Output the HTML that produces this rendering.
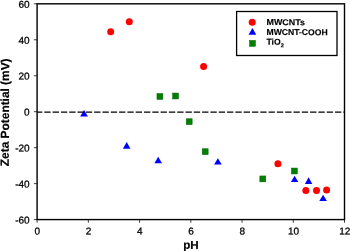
<!DOCTYPE html>
<html><head><meta charset="utf-8"><style>
html,body{margin:0;padding:0;background:#fff;width:350px;height:251px;overflow:hidden}
svg{display:block}
text{font-family:"Liberation Sans",Arial,sans-serif;fill:#000}
.tk{font-size:10px;stroke:#000;stroke-width:0.28px}
.lg{font-size:8.6px;font-weight:bold;stroke:#000;stroke-width:0.15px}
.al{font-size:12px;font-weight:bold;stroke:#000;stroke-width:0.18px}
</style></head><body>
<svg width="350" height="251" viewBox="0 0 350 251">
<rect x="37.10" y="3.82" width="307.40" height="215.76" fill="none" stroke="#000" stroke-width="1.4"/>
<line x1="33.90" y1="219.58" x2="37.10" y2="219.58" stroke="#000" stroke-width="0.75"/>
<text x="29.60" y="223.48" class="tk" text-anchor="end" transform="rotate(0.2 29.60 223.48)">-60</text>
<line x1="33.90" y1="183.62" x2="37.10" y2="183.62" stroke="#000" stroke-width="0.75"/>
<text x="29.60" y="187.52" class="tk" text-anchor="end" transform="rotate(0.2 29.60 187.52)">-40</text>
<line x1="33.90" y1="147.66" x2="37.10" y2="147.66" stroke="#000" stroke-width="0.75"/>
<text x="29.60" y="151.56" class="tk" text-anchor="end" transform="rotate(0.2 29.60 151.56)">-20</text>
<line x1="33.90" y1="111.70" x2="37.10" y2="111.70" stroke="#000" stroke-width="0.75"/>
<text x="29.60" y="115.60" class="tk" text-anchor="end" transform="rotate(0.2 29.60 115.60)">0</text>
<line x1="33.90" y1="75.74" x2="37.10" y2="75.74" stroke="#000" stroke-width="0.75"/>
<text x="29.60" y="79.64" class="tk" text-anchor="end" transform="rotate(0.2 29.60 79.64)">20</text>
<line x1="33.90" y1="39.78" x2="37.10" y2="39.78" stroke="#000" stroke-width="0.75"/>
<text x="29.60" y="43.68" class="tk" text-anchor="end" transform="rotate(0.2 29.60 43.68)">40</text>
<line x1="33.90" y1="3.82" x2="37.10" y2="3.82" stroke="#000" stroke-width="0.75"/>
<text x="29.60" y="7.72" class="tk" text-anchor="end" transform="rotate(0.2 29.60 7.72)">60</text>
<line x1="37.10" y1="219.58" x2="37.10" y2="222.78" stroke="#000" stroke-width="0.75"/>
<text x="37.40" y="234.50" class="tk" text-anchor="middle" transform="rotate(0.2 37.40 234.50)">0</text>
<line x1="88.33" y1="219.58" x2="88.33" y2="222.78" stroke="#000" stroke-width="0.75"/>
<text x="88.63" y="234.50" class="tk" text-anchor="middle" transform="rotate(0.2 88.63 234.50)">2</text>
<line x1="139.57" y1="219.58" x2="139.57" y2="222.78" stroke="#000" stroke-width="0.75"/>
<text x="139.87" y="234.50" class="tk" text-anchor="middle" transform="rotate(0.2 139.87 234.50)">4</text>
<line x1="190.80" y1="219.58" x2="190.80" y2="222.78" stroke="#000" stroke-width="0.75"/>
<text x="191.10" y="234.50" class="tk" text-anchor="middle" transform="rotate(0.2 191.10 234.50)">6</text>
<line x1="242.04" y1="219.58" x2="242.04" y2="222.78" stroke="#000" stroke-width="0.75"/>
<text x="242.34" y="234.50" class="tk" text-anchor="middle" transform="rotate(0.2 242.34 234.50)">8</text>
<line x1="293.27" y1="219.58" x2="293.27" y2="222.78" stroke="#000" stroke-width="0.75"/>
<text x="293.57" y="234.50" class="tk" text-anchor="middle" transform="rotate(0.2 293.57 234.50)">10</text>
<line x1="344.50" y1="219.58" x2="344.50" y2="222.78" stroke="#000" stroke-width="0.75"/>
<text x="344.80" y="234.50" class="tk" text-anchor="middle" transform="rotate(0.2 344.80 234.50)">12</text>
<rect x="156.95" y="93.55" width="5.90" height="5.90" fill="#008000" stroke="#006000" stroke-width="0.5"/>
<rect x="172.65" y="93.05" width="5.90" height="5.90" fill="#008000" stroke="#006000" stroke-width="0.5"/>
<rect x="186.25" y="118.75" width="5.90" height="5.90" fill="#008000" stroke="#006000" stroke-width="0.5"/>
<rect x="202.25" y="148.75" width="5.90" height="5.90" fill="#008000" stroke="#006000" stroke-width="0.5"/>
<rect x="259.85" y="175.95" width="5.90" height="5.90" fill="#008000" stroke="#006000" stroke-width="0.5"/>
<rect x="291.45" y="168.05" width="5.90" height="5.90" fill="#008000" stroke="#006000" stroke-width="0.5"/>
<polygon points="84.05,110.00 80.15,116.60 87.95,116.60" fill="#0000ff"/>
<polygon points="126.70,142.10 122.90,148.80 130.50,148.80" fill="#0000ff"/>
<polygon points="158.20,156.80 154.40,163.30 162.00,163.30" fill="#0000ff"/>
<polygon points="217.90,158.20 214.10,164.60 221.70,164.60" fill="#0000ff"/>
<polygon points="294.60,175.80 290.90,182.10 298.30,182.10" fill="#0000ff"/>
<polygon points="308.60,177.20 304.90,183.90 312.30,183.90" fill="#0000ff"/>
<polygon points="323.10,194.75 319.30,200.90 326.90,200.90" fill="#0000ff"/>
<circle cx="110.70" cy="31.70" r="3.5" fill="#ff0000"/>
<circle cx="129.30" cy="21.85" r="3.5" fill="#ff0000"/>
<circle cx="203.60" cy="66.50" r="3.5" fill="#ff0000"/>
<circle cx="277.90" cy="163.85" r="3.5" fill="#ff0000"/>
<circle cx="305.85" cy="190.50" r="3.5" fill="#ff0000"/>
<circle cx="316.50" cy="190.50" r="3.5" fill="#ff0000"/>
<circle cx="326.60" cy="190.00" r="3.5" fill="#ff0000"/>
<line x1="37.10" y1="112.1" x2="344.50" y2="112.1" stroke="#000" stroke-width="1.4" stroke-dasharray="6.35 1.956" stroke-dashoffset="1.1"/>
<rect x="236.6" y="11.5" width="100.4" height="44" fill="#fff" stroke="#000" stroke-width="1.3"/>
<circle cx="252.2" cy="22.2" r="3.5" fill="#ff0000"/>
<polygon points="252.4,28.0 248.55,34.7 256.25,34.7" fill="#0000ff"/>
<rect x="249.55" y="40.45" width="5.90" height="5.90" fill="#008000" stroke="#006000" stroke-width="0.5"/>
<text x="266.50" y="25.10" class="lg" transform="rotate(0.2 266.50 25.10)" textLength="38.4" lengthAdjust="spacingAndGlyphs">MWCNTs</text>
<text x="266.50" y="35.00" class="lg" transform="rotate(0.2 266.50 35.00)">MWCNT-COOH</text>
<text x="266.50" y="44.80" class="lg" transform="rotate(0.2 266.50 44.80)">TiO<tspan font-size="5.6" dy="2.4">2</tspan></text>
<text x="190.90" y="248.90" class="al" text-anchor="middle" transform="rotate(0.2 190.90 248.90)" style="font-size:11.6px">pH</text>
<text transform="translate(9.0,112.3) rotate(-89.8)" text-anchor="middle" class="al" style="font-size:11.9px">Zeta Potential (mV)</text>
</svg>
</body></html>
